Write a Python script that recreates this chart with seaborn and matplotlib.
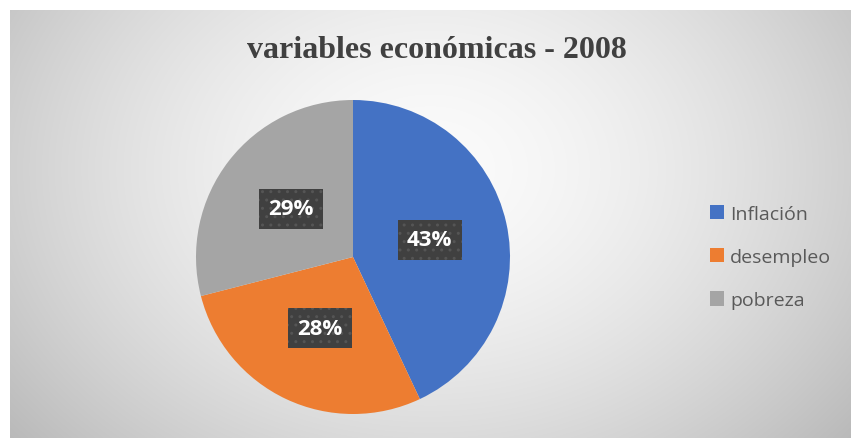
import numpy as np
import matplotlib
matplotlib.use("Agg")
import matplotlib.pyplot as plt
from matplotlib.patches import Rectangle
import seaborn as sns

# Data
categories = ["Inflación", "desempleo", "pobreza"]
values = [43, 28, 29]
colors = ["#4472C4", "#ED7D31", "#A5A5A5"]
title = "variables económicas - 2008"

sns.set_style("white")
plt.rcParams["font.family"] = ["Open Sans", "DejaVu Sans"]
plt.rcParams["hatch.linewidth"] = 1.0

W, H = 851, 439
fig = plt.figure(figsize=(W / 100, H / 100), dpi=100)
fig.patch.set_facecolor("white")

# Background: radial grey gradient (chart area)
bg = fig.add_axes([10 / W, 0, (W - 10) / W, (H - 11) / H])
yy, xx = np.mgrid[11:H, 10:W]
d = np.sqrt(((xx - 430) / 1.0) ** 2 + ((yy - 170) * 1.3) ** 2)
v = 0.985 - 0.21 * np.clip(d / 480, 0, 1.3) ** 1.6
bg.imshow(np.dstack([v, v, v]), aspect="auto", interpolation="bilinear")
bg.set_axis_off()

# Title
fig.text(437 / W, 1 - 51 / H, title, ha="center", va="center",
         fontsize=23, fontweight="bold", color="#404040",
         family=["Liberation Serif", "DejaVu Serif"])

# Pie
cx, cy, r = 353, 258, 157
ax = fig.add_axes([(cx - r) / W, (H - cy - r) / H, 2 * r / W, 2 * r / H])
ax.set_facecolor("none")
wedges, _, autotexts = ax.pie(values, colors=colors, startangle=90,
                              counterclock=False, autopct="%1.0f%%",
                              pctdistance=0.5, radius=1,
                              wedgeprops=dict(linewidth=0))
for t in autotexts:
    t.set_color("white")
    t.set_fontsize(16)
    t.set_fontweight("bold")
    t.set_bbox(dict(boxstyle="square,pad=0.42", facecolor="#404040",
                    edgecolor="#555555", linewidth=0, hatch=".."))
ax.set_xlim(-1, 1)
ax.set_ylim(-1, 1)
ax.set_axis_off()

# Legend
handles = [Rectangle((0, 0), 1, 1, facecolor=c, edgecolor="none") for c in colors]
fig.legend(handles, categories, loc="center left",
           bbox_to_anchor=(692 / W, 1 - 258 / H), frameon=False,
           fontsize=14, labelcolor="#595959", handlelength=0.75,
           handleheight=0.75, handletextpad=0.3, labelspacing=1.3)

fig.savefig("out.png", dpi=100)
